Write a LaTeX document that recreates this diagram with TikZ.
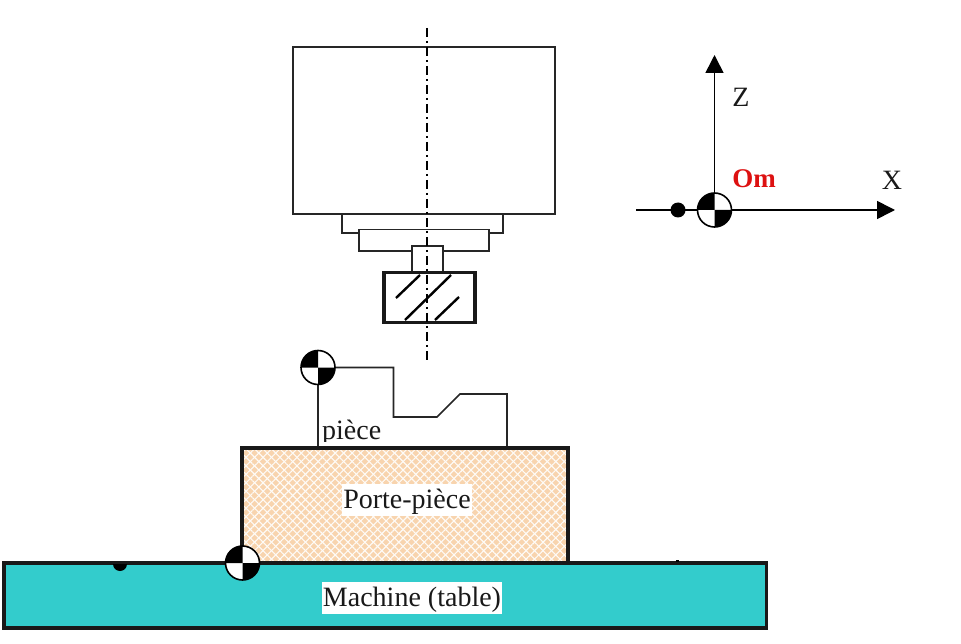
\documentclass[tikz,border=0pt]{standalone}
\usepackage{fontspec}
\setmainfont{Liberation Serif}
\usepackage{xcolor}
\usetikzlibrary{arrows.meta, patterns.meta}
\definecolor{peachfill}{HTML}{F8D4AE}
\definecolor{tablecyan}{HTML}{33CCCC}
\definecolor{omred}{HTML}{DD1111}
\tikzset{every node/.append style={font=\fontsize{28}{30}\selectfont, text=black!90}}
\tikzset{
  thinpart/.style={line width=1.6pt, draw=black!85},
  heavypart/.style={line width=3.2pt, draw=black!90},
  labelbox/.style={fill=white, anchor=base, inner xsep=1pt, inner ysep=0pt, text height=24pt, text depth=8pt},
  datum/.pic={
    \fill[white] (0,0) circle[radius=17];
    \fill[black] (0,0) -- (-17,0) arc[start angle=180, end angle=270, radius=17] -- cycle;
    \fill[black] (0,0) -- (17,0) arc[start angle=0, end angle=90, radius=17] -- cycle;
    \draw[line width=1.6pt] (0,0) circle[radius=17];
  }
}

\begin{document}
\begin{tikzpicture}[x=1pt, y=-1pt, >={Triangle[length=18pt, width=18pt]}]
    \useasboundingbox (0,0) rectangle (961,644);
    % spindle and tool
    \draw[thinpart] (293,47) rectangle (555,214);
    \draw[thinpart] (342,214) rectangle (503,233);
    \draw[thinpart, fill=white] (359,229.5) rectangle (489,251);
    \draw[thinpart, fill=white] (412,246) rectangle (443,272);
    \draw[heavypart] (384,272.5) rectangle (475,322.5);
    \draw[line width=2.4pt] (396,298) -- (420,275);
    \draw[line width=2.4pt] (405,320) -- (451,275);
    \draw[line width=2.4pt] (435,320) -- (459,297);
    \draw[line width=1.6pt, dash pattern=on 9pt off 4pt on 2pt off 4pt] (427,28) -- (427,360);
    % machine axes
    \coordinate (Om) at (714.5,210);
    \coordinate (Ztip) at (714.5,55);
    \coordinate (Xstart) at (636,210);
    \coordinate (Xtip) at (895,210);
    \draw[->, line width=1.6pt] (Om) -- (Ztip);
    \draw[->, line width=1.6pt] (Xstart) -- (Xtip);
    \fill (678,210) circle[radius=7.5];
    \pic at (Om) {datum};
    \node (Zlabel) at (741,97) {Z};
    \node (Xlabel) at (892,180) {X};
    \node[text=omred, font=\fontsize{27}{30}\selectfont\bfseries] (Omlabel) at (754,179) {Om};
    % workpiece outline
    \coordinate (Pm) at (318,367.5);
    \draw[thinpart] (Pm) -- (393.5,367.5) -- (393.5,417) -- (437,417) -- (460,394) -- (507,394) -- (507,448);
    \draw[thinpart] (Pm) -- (318,448);
    \pic at (Pm) {datum};
    \node[anchor=base west, inner sep=0pt] (piece) at (322,439) {pièce};
    \fill[white] (320,442) rectangle (385,446);
    % fixture and table
    \fill[peachfill] (242,448) rectangle (568,563);
    \fill[pattern={Lines[angle=45, distance=6pt, line width=1.1pt]}, pattern color=white!90!peachfill] (242,448) rectangle (568,563);
    \fill[pattern={Lines[angle=-45, distance=6pt, line width=1.1pt]}, pattern color=white!90!peachfill] (242,448) rectangle (568,563);
    \draw[heavypart] (242,448) rectangle (568,563);
    \draw[heavypart, fill=tablecyan] (4,563) rectangle (766.5,628);
    \node[labelbox] (porte) at (407,508) {Porte-pièce};
    \node[labelbox] (machine) at (412,606) {Machine (table)};
    \fill (113,564) arc[start angle=180, end angle=0, radius=7] -- cycle;
    \fill (676,562) rectangle (679,560);
    \pic at (242.5,563) {datum};
\end{tikzpicture}
\end{document}
